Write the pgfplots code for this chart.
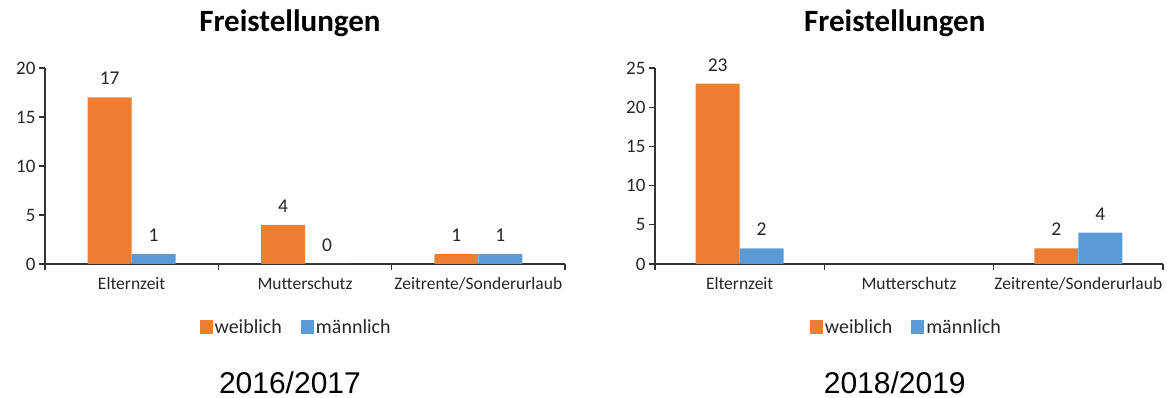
\documentclass[border=0pt]{standalone}
\usepackage{fontspec}
\setmainfont{Carlito}
\newfontfamily\arialfont{Liberation Sans}
\usepackage{pgfplots}
\pgfplotsset{compat=1.18}
\definecolor{orgE}{HTML}{ED7D31}
\definecolor{bluM}{HTML}{5B9BD5}
\pgfplotsset{
  sqlegend/.style={legend image code/.code={\fill[##1] (0pt,-7pt) rectangle (13pt,7pt);}},
  freistyle/.style={
    scale only axis, height=196pt,
    xmin=-0.5, xmax=2.5, ymin=0,
    clip=false,
    axis x line*=bottom, axis y line*=left,
    axis line style={black!80, line width=1.1pt},
    every tick/.style={black!80, line width=1.1pt},
    tick align=outside,
    major tick length=6pt, minor tick length=6pt,
    xtick={0,1,2},
    xticklabels={Elternzeit,Mutterschutz,Zeitrente/Sonderurlaub},
    major x tick style={draw=none},
    minor xtick={-0.5,0.5,1.5,2.5},
    xticklabel style={font=\fontsize{17.5}{20}\selectfont, text=black!85, yshift=-4pt},
    yticklabel style={font=\fontsize{19}{22}\selectfont, text=black!85},
    /pgf/number format/assume math mode=true,
    legend columns=2,
    legend style={draw=none, fill=none, font=\fontsize{20}{23}\selectfont, text=black!85,
      /tikz/every even column/.append style={column sep=17pt},
      legend cell align=left, inner sep=0pt},
    nodes near coords,
    every node near coord/.append style={font=\fontsize{19.5}{22}\selectfont, text=black!85, yshift=9pt},
  }
}
\begin{document}
\begin{tikzpicture}
\path[use as bounding box] (0,0) rectangle (1167pt,398pt);
% Left chart
\begin{axis}[freistyle, width=520pt, at={(45pt,134pt)}, anchor=south west,
  ymax=20, ytick={0,5,10,15,20},
  legend style={at={(axis description cs:0.483,-0.321)}, anchor=center}]
\addplot[ybar, bar width=44pt, bar shift=-22pt, fill=orgE, draw=none, sqlegend,
  nodes near coords style={xshift=-22pt}]
  coordinates {(0,17) (1,4) (2,1)};
\addplot[ybar, bar width=44pt, bar shift=22pt, fill=bluM, draw=none, sqlegend,
  nodes near coords style={xshift=22pt}]
  coordinates {(0,1) (1,0) (2,1)};
\legend{weiblich, männlich}
\node[font=\bfseries\fontsize{31}{34}\selectfont, anchor=base] at (axis description cs:0.471,1.187) {Freistellungen};
\node[font=\arialfont\fontsize{30}{34}\selectfont, anchor=base] at (axis description cs:0.471,-0.66) {2016/2017};
\end{axis}
% Right chart
\begin{axis}[freistyle, width=508pt, at={(655pt,134pt)}, anchor=south west,
  ymax=25, ytick={0,5,10,15,20,25},
  legend style={at={(axis description cs:0.495,-0.321)}, anchor=center}]
\addplot[ybar, bar width=44pt, bar shift=-22pt, fill=orgE, draw=none, sqlegend,
  nodes near coords style={xshift=-22pt}]
  coordinates {(0,23) (2,2)};
\addplot[ybar, bar width=44pt, bar shift=22pt, fill=bluM, draw=none, sqlegend,
  nodes near coords style={xshift=22pt}]
  coordinates {(0,2) (2,4)};
\legend{weiblich, männlich}
\node[font=\bfseries\fontsize{31}{34}\selectfont, anchor=base] at (axis description cs:0.472,1.187) {Freistellungen};
\node[font=\arialfont\fontsize{30}{34}\selectfont, anchor=base] at (axis description cs:0.472,-0.66) {2018/2019};
\end{axis}
\end{tikzpicture}
\end{document}
